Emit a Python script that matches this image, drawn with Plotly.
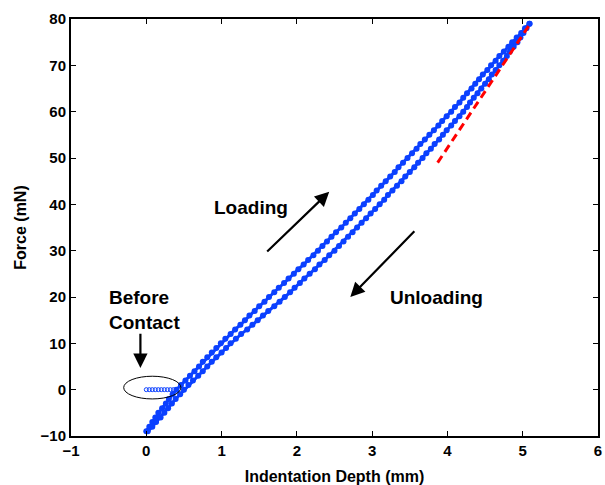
import plotly.graph_objects as go

# Loading curve (force in mN, depth in mm)
load_force = [-9, -8, -7, -6, -5, -4, -3, -2, -1, 0,
              1, 2, 3, 4, 5, 6, 7, 8, 9, 10,
              11, 12, 13, 14, 15, 16, 17, 18, 19, 20,
              21, 22, 23, 24, 25, 26, 27, 28, 29, 30,
              31, 32, 33, 34, 35, 36, 37, 38, 39, 40,
              41, 42, 43, 44, 45, 46, 47, 48, 49, 50,
              51, 52, 53, 54, 55, 56, 57, 58, 59, 60,
              61, 62, 63, 64, 65, 66, 67, 68, 69, 70,
              71, 72, 73, 74, 75, 76, 77, 78, 79]
load_depth = [0.00, 0.04, 0.08, 0.12, 0.16, 0.21, 0.26, 0.30, 0.35, 0.40,
              0.46, 0.52, 0.58, 0.64, 0.70, 0.75, 0.81, 0.87, 0.93, 0.99,
              1.05, 1.12, 1.18, 1.25, 1.31, 1.37, 1.44, 1.50, 1.57, 1.63,
              1.70, 1.76, 1.83, 1.89, 1.96, 2.02, 2.09, 2.15, 2.22, 2.28,
              2.34, 2.40, 2.46, 2.52, 2.59, 2.65, 2.71, 2.77, 2.83, 2.89,
              2.95, 3.01, 3.06, 3.12, 3.18, 3.24, 3.30, 3.35, 3.41, 3.47,
              3.53, 3.59, 3.64, 3.70, 3.76, 3.82, 3.88, 3.93, 3.99, 4.05,
              4.10, 4.16, 4.21, 4.26, 4.32, 4.37, 4.42, 4.47, 4.53, 4.58,
              4.64, 4.69, 4.75, 4.81, 4.86, 4.92, 4.98, 5.03, 5.09]

# Unloading curve
unload_force = [79, 78, 77, 76, 75, 74, 73, 72, 71, 70,
                69, 68, 67, 66, 65, 64, 63, 62, 61, 60,
                59, 58, 57, 56, 55, 54, 53, 52, 51, 50,
                49, 48, 47, 46, 45, 44, 43, 42, 41, 40,
                39, 38, 37, 36, 35, 34, 33, 32, 31, 30,
                29, 28, 27, 26, 25, 24, 23, 22, 21, 20,
                19, 18, 17, 16, 15, 14, 13, 12, 11, 10,
                9, 8, 7, 6, 5, 4, 3, 2, 1, 0,
                -1, -2, -3, -4, -5, -6, -7, -8, -9]
unload_depth = [5.09, 5.05, 5.01, 4.97, 4.93, 4.88, 4.83, 4.79, 4.74, 4.69,
                4.64, 4.59, 4.55, 4.50, 4.45, 4.40, 4.35, 4.30, 4.26, 4.21,
                4.16, 4.10, 4.05, 3.99, 3.94, 3.89, 3.83, 3.78, 3.72, 3.67,
                3.61, 3.56, 3.50, 3.44, 3.39, 3.33, 3.27, 3.21, 3.16, 3.10,
                3.04, 2.98, 2.92, 2.86, 2.80, 2.74, 2.68, 2.62, 2.56, 2.50,
                2.43, 2.37, 2.30, 2.24, 2.17, 2.10, 2.04, 1.97, 1.91, 1.84,
                1.77, 1.70, 1.62, 1.55, 1.48, 1.41, 1.34, 1.26, 1.19, 1.12,
                1.06, 1.00, 0.93, 0.87, 0.81, 0.75, 0.69, 0.62, 0.56, 0.50,
                0.45, 0.39, 0.34, 0.29, 0.24, 0.19, 0.13, 0.08, 0.02]

# Before contact points
pre_depth = [0.00, 0.04, 0.08, 0.12, 0.16, 0.20, 0.24, 0.28, 0.32, 0.36]
pre_force = [0, 0, 0, 0, 0, 0, 0, 0, 0, 0]

# Unloading tangent (stiffness fit)
fit_depth = [3.87, 5.10]
fit_force = [49, 79]

x_ticks = [-1, 0, 1, 2, 3, 4, 5, 6]
y_ticks = [-10, 0, 10, 20, 30, 40, 50, 60, 70, 80]

BLUE = "#0b40ff"
FONT = "Liberation Sans, Arial, Helvetica, sans-serif"

fig = go.Figure()
for xs, ys in [(load_depth, load_force), (unload_depth, unload_force)]:
    fig.add_trace(go.Scatter(
        x=xs, y=ys, mode="lines+markers",
        line=dict(color=BLUE, width=3),
        marker=dict(color=BLUE, size=6, line=dict(width=0)),
        hoverinfo="skip"))

fig.add_trace(go.Scatter(
    x=pre_depth, y=pre_force, mode="markers",
    marker=dict(symbol="circle-open", color=BLUE, size=4, line=dict(width=1, color=BLUE)),
    hoverinfo="skip"))

fig.add_trace(go.Scatter(
    x=fit_depth, y=fit_force, mode="lines",
    line=dict(color="#ff0000", width=3, dash="8px,5px"),
    hoverinfo="skip"))

fig.add_shape(type="circle", xref="x", yref="y",
              x0=-0.30, x1=0.46, y0=-2.0, y1=2.9,
              line=dict(color="black", width=1))

txt = dict(family=FONT, size=19, color="black", weight="bold")
fig.add_annotation(x=1.39, y=39.4, text="Loading", showarrow=False, font=txt)
fig.add_annotation(x=3.85, y=19.8, text="Unloading", showarrow=False, font=txt)
fig.add_annotation(x=-0.52, y=17.2, text="Before<br>Contact", showarrow=False,
                   font=txt, xanchor="left", align="left")

arrows = [((2.43, 42.7), (1.586, 29.5)),
          ((2.71, 20.0), (3.58, 34.5)),
          ((-0.078, 4.7), (-0.078, 12.4))]
for (tx, ty), (sx, sy) in arrows:
    fig.add_annotation(x=tx, y=ty, ax=sx, ay=sy, xref="x", yref="y",
                       axref="x", ayref="y", text="", showarrow=True,
                       arrowhead=2, arrowsize=1.3, arrowwidth=2.2,
                       arrowcolor="black")

tickfont = dict(family=FONT, size=15, color="black", weight="bold")
titlefont = dict(family=FONT, size=16, color="black", weight="bold")

fig.update_xaxes(range=[-1, 6], tickvals=x_ticks, ticks="inside", ticklen=5,
                 tickwidth=1, tickcolor="black", showline=True, linewidth=2,
                 linecolor="black", mirror="allticks", showgrid=False,
                 zeroline=False, tickfont=tickfont,
                 title=dict(text="Indentation Depth (mm)", font=titlefont, standoff=14))
fig.update_yaxes(range=[-10, 80], tickvals=y_ticks, ticks="inside", ticklen=5,
                 tickwidth=1, tickcolor="black", showline=True, linewidth=2,
                 linecolor="black", mirror="allticks", showgrid=False,
                 zeroline=False, tickfont=tickfont,
                 title=dict(text="Force (mN)", font=titlefont, standoff=10))

fig.update_layout(width=605, height=485, showlegend=False,
                  margin=dict(l=71, r=7, t=19, b=49, autoexpand=False),
                  plot_bgcolor="white", paper_bgcolor="white")

fig.write_html("out.html", config={"displayModeBar": False},
               post_script="document.body.style.margin='0px';document.body.style.overflow='hidden';")
